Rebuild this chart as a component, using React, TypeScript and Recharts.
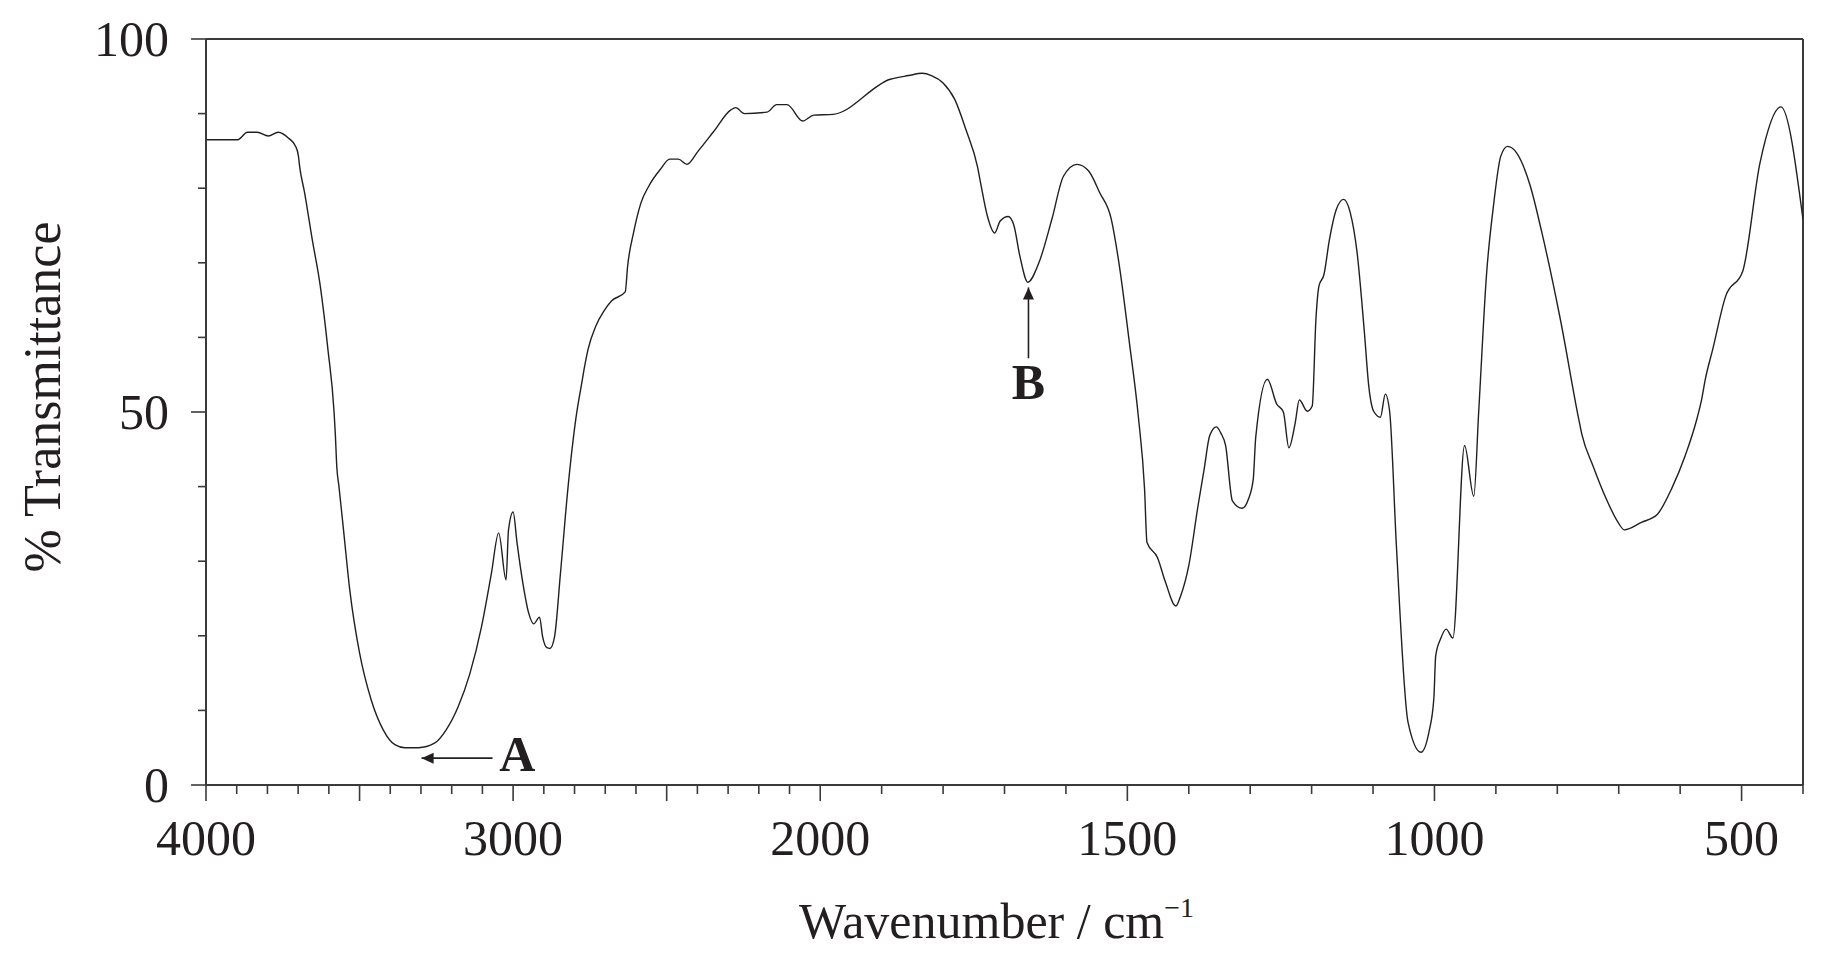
import React from 'react';
import { LineChart, Line, XAxis, YAxis, ReferenceLine, ReferenceDot, Label } from 'recharts';

// Wavenumber (cm^-1) and % transmittance
const wavenumbers = [
  4000, 3897, 3865, 3833, 3797, 3765, 3731, 3708, 3699, 3696, 3679, 3654, 3628, 3603, 3583, 3579,
  3574, 3567, 3551, 3532, 3500, 3462, 3423, 3385, 3353, 3308, 3256, 3218, 3179, 3141, 3103, 3071,
  3047, 3023, 3015, 3000, 2987, 2968, 2949, 2933, 2914, 2904, 2890, 2880, 2865, 2846, 2821, 2795,
  2776, 2769, 2756, 2731, 2705, 2679, 2635, 2627, 2608, 2584, 2558, 2521, 2490, 2462, 2434, 2397,
  2347, 2291, 2275, 2247, 2173, 2142, 2108, 2057, 2021, 1979, 1886, 1856, 1834, 1819, 1800, 1781,
  1763, 1744, 1738, 1728, 1716, 1707, 1694, 1685, 1675, 1662, 1644, 1623, 1604, 1582, 1563, 1545,
  1526, 1513, 1497, 1482, 1472, 1468, 1451, 1438, 1421, 1413, 1400, 1385, 1375, 1366, 1355, 1348,
  1340, 1329, 1313, 1303, 1295, 1291, 1272, 1257, 1246, 1237, 1227, 1220, 1207, 1199, 1193, 1188,
  1180, 1171, 1160, 1148, 1137, 1126, 1114, 1107, 1099, 1088, 1080, 1073, 1062, 1043, 1022, 1009,
  1001, 998, 990, 981, 970, 951, 936, 928, 915, 904, 892, 881, 866, 844, 825, 795,
  765, 760, 742, 720, 701, 691, 663, 637, 614, 592, 573, 565, 559, 547, 526, 498,
  470, 436, 400,
];
const transmittance = [
  86.5, 86.5, 87.5, 87.5, 87.0, 87.5, 86.7, 85.6, 84.3, 83.2, 79.4, 73.1, 66.9, 58.4, 50.0, 47.1,
  42.6, 40.0, 33.7, 26.2, 17.7, 11.4, 7.4, 5.4, 5.0, 5.0, 5.6, 7.4, 10.5, 14.9, 21.2, 28.3,
  33.8, 27.5, 34.2, 36.6, 32.4, 27.0, 23.0, 21.6, 22.5, 19.9, 18.4, 18.3, 19.9, 28.3, 40.0, 49.3,
  54.0, 55.7, 58.4, 61.5, 63.5, 64.9, 66.1, 69.6, 74.0, 78.0, 80.3, 82.5, 83.9, 83.9, 83.2, 85.0,
  87.6, 90.5, 90.8, 90.0, 90.2, 91.2, 91.2, 89.0, 89.8, 89.9, 94.6, 95.1, 95.4, 95.1, 94.1, 91.9,
  87.9, 82.9, 80.3, 76.3, 74.0, 75.6, 76.2, 75.1, 70.9, 67.4, 70.0, 75.8, 81.6, 83.2, 82.3, 79.4,
  75.8, 69.6, 59.5, 49.3, 39.7, 32.5, 30.5, 27.2, 24.0, 25.4, 29.4, 37.4, 42.3, 46.8, 48.0, 47.2,
  45.5, 38.1, 37.1, 38.3, 41.0, 46.6, 54.4, 51.1, 50.0, 45.2, 48.4, 51.6, 50.1, 50.8, 62.4, 66.9,
  68.4, 73.1, 77.1, 78.5, 76.7, 71.4, 60.6, 53.5, 50.1, 49.3, 52.4, 50.1, 32.1, 8.4, 4.4, 7.1,
  11.6, 17.3, 19.6, 20.9, 19.7, 45.5, 38.7, 50.0, 68.7, 77.6, 84.3, 85.6, 84.7, 80.3, 74.0, 62.4,
  49.0, 47.0, 42.8, 38.3, 35.2, 34.2, 35.2, 36.3, 39.7, 44.1, 49.0, 51.7, 54.4, 58.4, 65.5, 68.9,
  83.4, 90.9, 75.8,
];

const xLabelTicks = [4000, 3000, 2000, 1500, 1000, 500];
const yTicks = [0, 10, 20, 30, 40, 50, 60, 70, 80, 90, 100];
const yLabelTicks = [0, 50, 100];

// annotation points (wavenumber, transmittance)
const arrowA = { tipW: 3298, tipT: 3.6, tailW: 3067, tailT: 3.6, labelW: 2986, labelT: 4.06 };
const arrowB = { tipW: 1661, tipT: 66.7, tailW: 1661, tailT: 57.2, labelW: 1661, labelT: 53.9 };

// IR convention: 4000-2000 at half scale, below 2000 at full scale
const toAxis = (w: number) => (w >= 2000 ? (4000 - w) / 2 : 1000 + (2000 - w));
const fromAxis = (u: number) => (u <= 1000 ? 4000 - 2 * u : 2000 - (u - 1000));

const data = wavenumbers.map((w, i) => ({ u: toAxis(w), t: transmittance[i] }));
const xTicks: number[] = [];
for (let w = 4000; w >= 400; w -= 100) xTicks.push(toAxis(w));

const FONT = '"Liberation Serif", "Times New Roman", serif';
const INK = '#231f20';
const AXIS = '#3a3a3a';

const XTick = (props: any) => {
  const { x, y, payload } = props;
  const w = Math.round(fromAxis(payload.value));
  const long = w % 500 === 0;
  return (
    <g>
      <line x1={x} x2={x} y1={y} y2={y + (long ? 16 : 9)} stroke={AXIS} strokeWidth={1.6} />
      {xLabelTicks.includes(w) && (
        <text x={x} y={y + 70} textAnchor="middle" fontFamily={FONT} fontSize={50} fill={INK}>
          {w}
        </text>
      )}
    </g>
  );
};

const YTick = (props: any) => {
  const { x, y, payload } = props;
  const v = payload.value;
  const labeled = yLabelTicks.includes(v);
  return (
    <g>
      <line x1={x} x2={x - (labeled ? 15 : 8)} y1={y} y2={y} stroke={AXIS} strokeWidth={1.6} />
      {labeled && (
        <text x={x - 37} y={y + 17} textAnchor="end" fontFamily={FONT} fontSize={50} fill={INK}>
          {v}
        </text>
      )}
    </g>
  );
};

const XTitle = (props: any) => {
  const vb = props.viewBox || { x: 206, y: 785, width: 1597 };
  const cx = vb.x + vb.width / 2 - 8;
  return (
    <text x={cx} y={vb.y + 153} textAnchor="middle" fontFamily={FONT} fontSize={50} fill={INK}>
      Wavenumber / cm
      <tspan dy={-21} fontSize={28}>
        −1
      </tspan>
    </text>
  );
};

const YTitle = (props: any) => {
  const vb = props.viewBox || { x: 0, y: 39, height: 746 };
  const cy = vb.y + vb.height / 2 - 15;
  return (
    <text
      x={60}
      y={cy}
      transform={`rotate(-90, 60, ${cy})`}
      textAnchor="middle"
      fontFamily={FONT}
      fontSize={52}
      fill={INK}
    >
      % Transmittance
    </text>
  );
};

const HeadLeft = (p: any) => (
  <polygon points={`${p.cx},${p.cy} ${p.cx + 12},${p.cy - 5.5} ${p.cx + 12},${p.cy + 5.5}`} fill={INK} />
);
const HeadUp = (p: any) => (
  <polygon points={`${p.cx},${p.cy} ${p.cx - 5.5},${p.cy + 12} ${p.cx + 5.5},${p.cy + 12}`} fill={INK} />
);
const letter = (s: string) => (p: any) => (
  <text x={p.cx} y={p.cy + 16.5} textAnchor="middle" fontFamily={FONT} fontWeight="bold" fontSize={50} fill={INK}>
    {s}
  </text>
);

export default function App() {
  return (
    <div style={{ position: 'absolute', left: 0, top: 0, width: 1824, height: 963, background: '#fff' }}>
      <LineChart width={1824} height={963} data={data} margin={{ top: 39, right: 21, bottom: 0, left: 0 }}>
        <XAxis
          dataKey="u"
          type="number"
          domain={[0, 2600]}
          ticks={xTicks}
          interval={0}
          height={178}
          tickSize={0}
          tickMargin={0}
          tickLine={false}
          tick={<XTick />}
          axisLine={{ stroke: AXIS, strokeWidth: 2 }}
          allowDataOverflow
        >
          <Label content={<XTitle />} />
        </XAxis>
        <YAxis
          type="number"
          domain={[0, 100]}
          ticks={yTicks}
          interval={0}
          width={206}
          tickSize={0}
          tickMargin={0}
          tickLine={false}
          tick={<YTick />}
          axisLine={{ stroke: AXIS, strokeWidth: 2 }}
          allowDataOverflow
        >
          <Label content={<YTitle />} />
        </YAxis>
        <ReferenceLine y={100} stroke={AXIS} strokeWidth={2} />
        <ReferenceLine x={2600} stroke={AXIS} strokeWidth={2} />
        <Line
          type="monotoneX"
          dataKey="t"
          stroke={INK}
          strokeWidth={1.4}
          dot={false}
          isAnimationActive={false}
        />
        <ReferenceLine
          segment={[
            { x: toAxis(arrowA.tipW), y: arrowA.tipT },
            { x: toAxis(arrowA.tailW), y: arrowA.tailT },
          ]}
          stroke={INK}
          strokeWidth={1.6}
        />
        <ReferenceDot x={toAxis(arrowA.tipW)} y={arrowA.tipT} r={1} shape={<HeadLeft />} />
        <ReferenceDot x={toAxis(arrowA.labelW)} y={arrowA.labelT} r={1} shape={letter('A')} />
        <ReferenceLine
          segment={[
            { x: toAxis(arrowB.tipW), y: arrowB.tipT },
            { x: toAxis(arrowB.tailW), y: arrowB.tailT },
          ]}
          stroke={INK}
          strokeWidth={1.6}
        />
        <ReferenceDot x={toAxis(arrowB.tipW)} y={arrowB.tipT} r={1} shape={<HeadUp />} />
        <ReferenceDot x={toAxis(arrowB.labelW)} y={arrowB.labelT} r={1} shape={letter('B')} />
      </LineChart>
    </div>
  );
}
